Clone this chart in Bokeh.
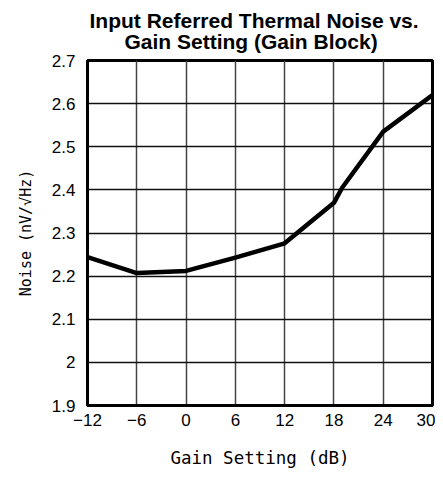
from bokeh.plotting import figure
from bokeh.models import Range1d, FixedTicker, Title
from bokeh.embed import file_html
from bokeh.resources import INLINE

# Data
gain_db = [-12, -6, 0, 6, 12, 18, 19, 24, 30]
noise = [2.244, 2.207, 2.212, 2.243, 2.276, 2.37, 2.405, 2.535, 2.62]

x_ticks = [-12, -6, 0, 6, 12, 18, 24, 30]
x_tick_labels = ["\u221212", "\u22126", "0", "6", "12", "18", "24", "30"]
y_ticks = [1.9, 2.0, 2.1, 2.2, 2.3, 2.4, 2.5, 2.6, 2.7]
y_tick_labels = ["1.9", "2", "2.1", "2.2", "2.3", "2.4", "2.5", "2.6", "2.7"]

title_lines = ["Input Referred Thermal Noise vs.", "Gain Setting (Gain Block)"]
x_label = "Gain Setting (dB)"
y_label = "Noise (nV/\u221aHz)"

p = figure(width=435, height=470, output_backend="svg", toolbar_location=None,
           x_range=Range1d(-12, 30), y_range=Range1d(1.9, 2.7),
           min_border_left=87, min_border_right=3, min_border_top=60, min_border_bottom=65)

# bottom title line first (closest to the plot), then the top line
p.add_layout(Title(text=title_lines[1], align="left", text_font="Liberation Sans",
                   text_font_size="21px", text_font_style="bold", text_color="black",
                   standoff=16, offset=37), "above")
p.add_layout(Title(text=title_lines[0], align="left", text_font="Liberation Sans",
                   text_font_size="21px", text_font_style="bold", text_color="black",
                   standoff=-24, offset=2), "above")
p.title.visible = False

p.line(gain_db, noise, line_color="black", line_width=4.5, line_join="round")

p.xaxis.ticker = FixedTicker(ticks=x_ticks)
p.yaxis.ticker = FixedTicker(ticks=y_ticks)
p.xaxis.major_label_overrides = dict(zip(x_ticks, x_tick_labels))
p.yaxis.major_label_overrides = dict(zip(y_ticks, y_tick_labels))

for ax in (p.xaxis, p.yaxis):
    ax.major_tick_line_color = None
    ax.minor_tick_line_color = None
    ax.major_tick_out = 0
    ax.major_tick_in = 0
    ax.minor_tick_out = 0
    ax.minor_tick_in = 0
    ax.axis_line_color = "black"
    ax.axis_line_width = 3
    ax.major_label_text_font = "Liberation Sans"
    ax.major_label_text_font_size = "17px"
    ax.major_label_text_color = "black"
    ax.axis_label_text_font = "DejaVu Sans Mono"
    ax.axis_label_text_font_style = "normal"
    ax.axis_label_text_color = "black"

p.xaxis.axis_label = x_label
p.yaxis.axis_label = y_label
p.xaxis.axis_label_text_font_size = "17.5px"
p.yaxis.axis_label_text_font_size = "15px"
p.xaxis.major_label_standoff = 8
p.yaxis.major_label_standoff = 12
p.xaxis.axis_label_standoff = 19
p.yaxis.axis_label_standoff = 14

p.xgrid.ticker = FixedTicker(ticks=x_ticks)
p.ygrid.ticker = FixedTicker(ticks=y_ticks)
p.xgrid.grid_line_color = "#444444"
p.xgrid.grid_line_width = 1.5
p.ygrid.grid_line_color = "#111111"
p.ygrid.grid_line_width = 1.5

p.outline_line_color = "black"
p.outline_line_width = 3
p.background_fill_color = "white"
p.border_fill_color = "white"

open("out.html", "w").write(file_html(p, INLINE))
